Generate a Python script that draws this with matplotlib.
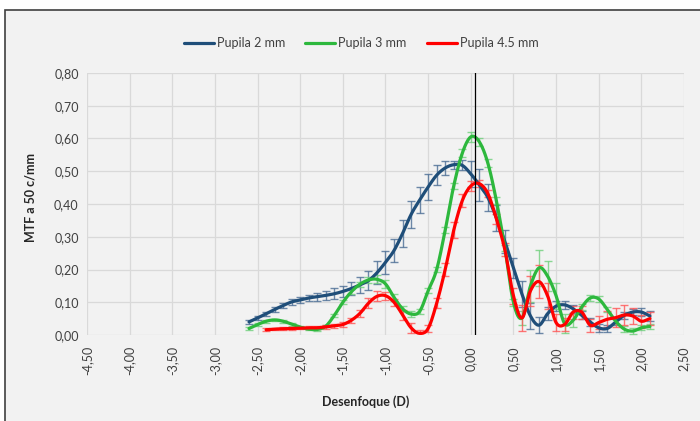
import numpy as np
import matplotlib
matplotlib.use("Agg")
import matplotlib.pyplot as plt
from matplotlib.patches import Rectangle
from matplotlib.ticker import FuncFormatter, MultipleLocator

plt.rcParams['font.family'] = ['Lato', 'DejaVu Sans']

# defocus (D)
x_2mm = np.round(np.arange(-2.6, 2.15, 0.1), 2)
x_3mm = np.round(np.arange(-2.6, 2.15, 0.1), 2)
x_45mm = np.round(np.arange(-2.4, 2.15, 0.1), 2)

mtf_2mm = [0.040, 0.052, 0.065, 0.078, 0.090, 0.101, 0.107, 0.113, 0.117, 0.121,
           0.126, 0.133, 0.142, 0.153, 0.166, 0.190, 0.222, 0.258, 0.310, 0.368,
           0.412, 0.452, 0.488, 0.510, 0.520, 0.518, 0.492, 0.458, 0.420, 0.358,
           0.285, 0.205, 0.125, 0.058, 0.030, 0.065, 0.088, 0.092, 0.080, 0.060,
           0.040, 0.022, 0.020, 0.040, 0.060, 0.070, 0.070, 0.058]
err_2mm = [0.005, 0.006, 0.006, 0.007, 0.008, 0.008, 0.010, 0.010, 0.012, 0.014,
           0.016, 0.018, 0.020, 0.025, 0.030, 0.035, 0.035, 0.035, 0.040, 0.040,
           0.040, 0.040, 0.030, 0.020, 0.012, 0.015, 0.040, 0.050, 0.040, 0.040,
           0.035, 0.030, 0.040, 0.040, 0.025, 0.020, 0.015, 0.012, 0.012, 0.012,
           0.012, 0.012, 0.012, 0.010, 0.010, 0.010, 0.012, 0.015]

mtf_3mm = [0.020, 0.032, 0.042, 0.046, 0.042, 0.033, 0.024, 0.018, 0.017, 0.027,
           0.060, 0.100, 0.132, 0.155, 0.168, 0.170, 0.156, 0.115, 0.080, 0.064,
           0.072, 0.135, 0.200, 0.320, 0.455, 0.555, 0.605, 0.590, 0.525, 0.410,
           0.265, 0.100, 0.052, 0.150, 0.205, 0.180, 0.120, 0.035, 0.045, 0.085,
           0.113, 0.110, 0.078, 0.042, 0.018, 0.012, 0.022, 0.026]
err_3mm = [0.004, 0.004, 0.004, 0.004, 0.004, 0.004, 0.004, 0.004, 0.004, 0.004,
           0.005, 0.006, 0.008, 0.008, 0.010, 0.012, 0.012, 0.010, 0.008, 0.008,
           0.008, 0.008, 0.008, 0.010, 0.010, 0.012, 0.015, 0.012, 0.012, 0.010,
           0.010, 0.010, 0.020, 0.050, 0.055, 0.045, 0.040, 0.030, 0.020, 0.010,
           0.008, 0.008, 0.008, 0.008, 0.008, 0.008, 0.008, 0.008]

mtf_45mm = [0.016, 0.018, 0.019, 0.020, 0.021, 0.022, 0.022, 0.025, 0.028, 0.032,
            0.045, 0.066, 0.097, 0.118, 0.120, 0.100, 0.062, 0.022, 0.005, 0.020,
            0.097, 0.200, 0.320, 0.410, 0.455, 0.462, 0.432, 0.355, 0.260, 0.120,
            0.052, 0.135, 0.163, 0.120, 0.038, 0.032, 0.070, 0.070, 0.030, 0.038,
            0.048, 0.053, 0.061, 0.058, 0.042, 0.050]
err_45mm = [0.004, 0.004, 0.004, 0.004, 0.004, 0.004, 0.005, 0.006, 0.006, 0.008,
            0.008, 0.010, 0.015, 0.015, 0.012, 0.010, 0.015, 0.015, 0.010, 0.010,
            0.015, 0.020, 0.025, 0.020, 0.015, 0.010, 0.012, 0.015, 0.020, 0.025,
            0.040, 0.045, 0.050, 0.040, 0.025, 0.020, 0.020, 0.020, 0.020, 0.020,
            0.025, 0.030, 0.030, 0.025, 0.020, 0.020]

series = [
    ("Pupila 2 mm", x_2mm, mtf_2mm, err_2mm, "#1f4e79", "#4a6d94"),
    ("Pupila 3 mm", x_3mm, mtf_3mm, err_3mm, "#2db83d", "#6fcf7c"),
    ("Pupila 4.5 mm", x_45mm, mtf_45mm, err_45mm, "#ff0000", "#ff5555"),
]


def smooth(x, y, n=12):
    # catmull-rom curve through the points, like excel's smoothed line
    x = np.asarray(x, float)
    y = np.asarray(y, float)
    px = np.concatenate([[2 * x[0] - x[1]], x, [2 * x[-1] - x[-2]]])
    py = np.concatenate([[2 * y[0] - y[1]], y, [2 * y[-1] - y[-2]]])
    t = np.linspace(0, 1, n, endpoint=False)
    xs, ys = [], []
    for i in range(1, len(px) - 2):
        for p, out in ((px, xs), (py, ys)):
            p0, p1, p2, p3 = p[i - 1], p[i], p[i + 1], p[i + 2]
            out.extend(0.5 * ((2 * p1) + (-p0 + p2) * t
                              + (2 * p0 - 5 * p1 + 4 * p2 - p3) * t ** 2
                              + (-p0 + 3 * p1 - 3 * p2 + p3) * t ** 3))
    xs.append(x[-1])
    ys.append(y[-1])
    return np.array(xs), np.array(ys)


fig = plt.figure(figsize=(7.0, 4.21), dpi=100, facecolor="white")
fig.patches.append(Rectangle((5 / 700, -0.1), 1.2, 1 - 10 / 421 + 0.1,
                             transform=fig.transFigure, facecolor="#f2f2f2",
                             edgecolor="#404040", linewidth=1.2, zorder=-10))

ax = fig.add_axes([87 / 700, 1 - 335 / 421, 597 / 700, 262 / 421])
ax.set_facecolor("none")

for label, x, y, e, c, ec in series:
    ax.errorbar(x, y, yerr=e, fmt="none", ecolor=ec, elinewidth=1.0,
                capsize=3, capthick=1.0, alpha=0.8, zorder=3)
    sx, sy = smooth(x, y)
    ax.plot(sx, sy, color=c, lw=2.3, label=label, zorder=4,
            solid_capstyle="round")

ax.axvline(0.05, color="black", lw=0.9, zorder=5)

ax.set_xlim(-4.5, 2.5)
ax.set_ylim(0, 0.8)
ax.xaxis.set_major_locator(MultipleLocator(0.5))
ax.yaxis.set_major_locator(MultipleLocator(0.1))
fmt = FuncFormatter(lambda v, p: f"{v:.2f}".replace(".", ",").replace("-0,00", "0,00"))
ax.xaxis.set_major_formatter(fmt)
ax.yaxis.set_major_formatter(fmt)
ax.grid(True, color="#d9d9d9", lw=0.9)
ax.set_axisbelow(True)
for s in ax.spines.values():
    s.set_visible(False)
ax.tick_params(length=0, labelsize=9, colors="#404040", pad=6)
ax.tick_params(axis="x", labelrotation=90, pad=8)

ax.set_xlabel("Desenfoque (D)", fontsize=9, fontweight="bold", color="#262626")
ax.xaxis.set_label_coords(0.466, -0.23)
ax.set_ylabel("MTF a 50 c/mm", fontsize=9, fontweight="bold", color="#262626")
ax.yaxis.set_label_coords(-0.085, 0.525)

fig.legend(loc="center", bbox_to_anchor=(361 / 700, 1 - 43 / 421), ncol=3,
           frameon=False, fontsize=9, handlelength=2.4, handletextpad=0.25,
           columnspacing=1.6, labelcolor="#404040")

fig.savefig("out.png", dpi=100, facecolor=fig.get_facecolor())
